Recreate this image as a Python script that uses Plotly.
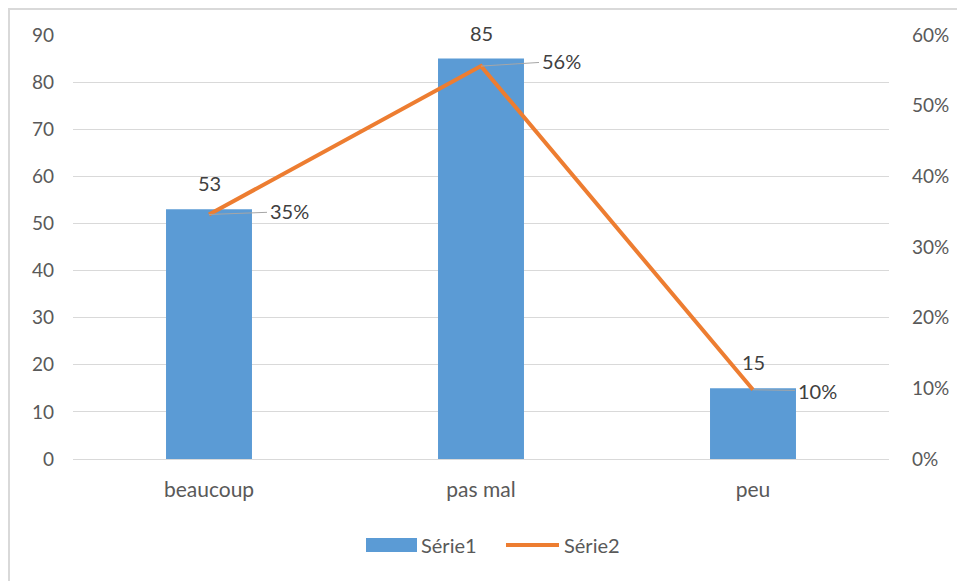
import plotly.graph_objects as go

categories = ["beaucoup", "pas mal", "peu"]
serie1 = [53, 85, 15]
serie2 = [0.346, 0.556, 0.098]
left_ticks = list(range(0, 100, 10))
right_ticks = [0, 0.1, 0.2, 0.3, 0.4, 0.5, 0.6]

BLUE = "#5B9BD5"
ORANGE = "#ED7D31"
GRID = "#D9D9D9"
TXT = "#595959"
FONT = "Lato"

# page body has an 8px margin; work in page pixels and subtract it
OFF = 8
FW, FH = 965 - OFF, 581 - OFF
L, W, T, H = 73 - OFF, 816, 35 - OFF, 424

fig = go.Figure()
fig.add_trace(go.Bar(x=categories, y=serie1, name="Série1", marker=dict(color=BLUE, line=dict(width=0)),
                     showlegend=False, hoverinfo="skip"))
fig.add_trace(go.Scatter(x=categories, y=serie2, name="Série2", mode="lines", yaxis="y2",
                         line=dict(color=ORANGE, width=4), showlegend=False))

# bar value labels
for c, v in zip(categories, serie1):
    fig.add_annotation(x=c, y=v, text=str(v), showarrow=False, yanchor="bottom", yshift=12,
                       font=dict(family=FONT, size=20, color="#404040"))

# line value labels with leader lines
offsets = [(80, -3), (80, -5), (64, 1)]
for c, v, (ax, ay) in zip(categories, serie2, offsets):
    fig.add_annotation(x=c, y=v, yref="y2", text=f"{v:.0%}", showarrow=True, arrowhead=0,
                       arrowwidth=1, arrowcolor="#A6A6A6", ax=ax, ay=ay, borderpad=2,
                       font=dict(family=FONT, size=20, color="#404040"))

def px(x):
    return (x - OFF - L) / W
def py(y):
    return 1 - (y - OFF - T) / H

# custom legend (Excel-like)
fig.add_shape(type="rect", xref="paper", yref="paper", x0=px(366), x1=px(417), y0=py(552), y1=py(538),
              fillcolor=BLUE, line=dict(width=0))
fig.add_shape(type="line", xref="paper", yref="paper", x0=px(506), x1=px(559), y0=py(545), y1=py(545),
              line=dict(color=ORANGE, width=4))
fig.add_annotation(xref="paper", yref="paper", x=px(419), y=py(545), text="Série1", showarrow=False,
                   xanchor="left", yanchor="middle", font=dict(family=FONT, size=20, color=TXT))
fig.add_annotation(xref="paper", yref="paper", x=px(562), y=py(545), text="Série2", showarrow=False,
                   xanchor="left", yanchor="middle", font=dict(family=FONT, size=20, color=TXT))

# chart border
fig.add_shape(type="rect", xref="paper", yref="paper", x0=px(9), x1=px(990), y0=py(600), y1=py(9),
              line=dict(color=GRID, width=2), fillcolor="rgba(0,0,0,0)", layer="below")

fig.update_layout(
    width=FW, height=FH,
    margin=dict(l=L, r=FW - L - W, t=T, b=FH - T - H),
    paper_bgcolor="white", plot_bgcolor="white",
    bargap=0.684,
    showlegend=False,
    font=dict(family=FONT, size=19, color=TXT),
    xaxis=dict(showgrid=False, showline=False, ticks="", tickfont=dict(size=21), ticklabelstandoff=16),
    yaxis=dict(range=[0, 90], tickvals=left_ticks, showgrid=True, gridcolor=GRID, gridwidth=1,
               zeroline=True, zerolinecolor=GRID, zerolinewidth=1, ticks="", ticklabelstandoff=18,
               showline=False),
    yaxis2=dict(range=[0, 0.6], tickvals=right_ticks, tickformat=".0%", overlaying="y", side="right",
                showgrid=False, zeroline=False, ticks="", ticklabelstandoff=22, showline=False),
)

fig.write_html("out.html")
